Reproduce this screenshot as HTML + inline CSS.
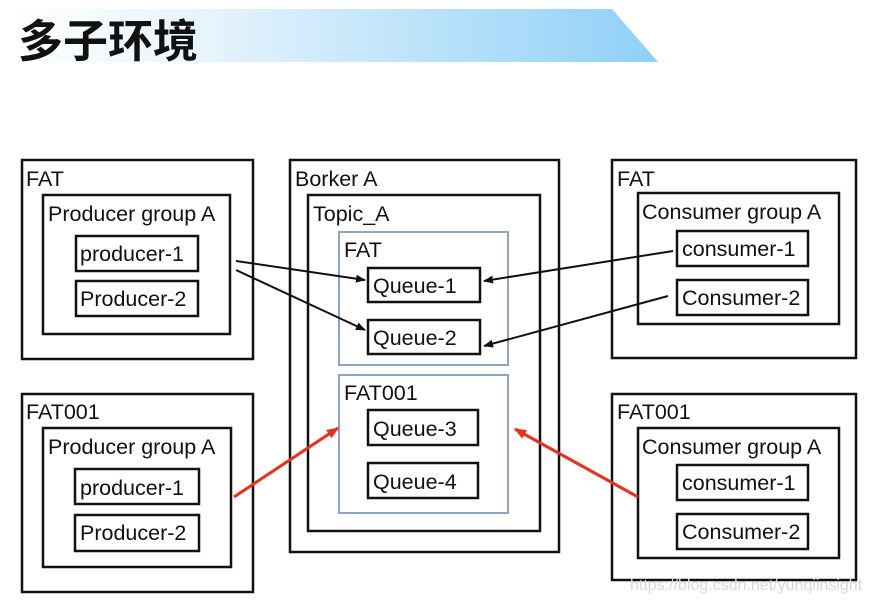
<!DOCTYPE html>
<html><head><meta charset="utf-8"><style>
html,body{margin:0;padding:0;background:#fff;}
svg{display:block;}
text{font-family:"Liberation Sans",Arial,sans-serif;fill:#111;}
</style></head><body>
<svg width="871" height="602" viewBox="0 0 871 602" xmlns="http://www.w3.org/2000/svg">
<defs>
<linearGradient id="g" x1="0" x2="1" y1="0" y2="0">
<stop offset="0" stop-color="#ffffff"/>
<stop offset="0.3" stop-color="#e6f4fd"/>
<stop offset="1" stop-color="#8fd0f7"/>
</linearGradient>
<marker id="ab" markerWidth="10" markerHeight="8" refX="9" refY="4" orient="auto" markerUnits="userSpaceOnUse"><path d="M0,0 L10,4 L0,8 z" fill="#111"/></marker>
<marker id="ar" markerWidth="12" markerHeight="10" refX="11" refY="5" orient="auto" markerUnits="userSpaceOnUse"><path d="M0,0 L12,5 L0,10 z" fill="#e8301c"/></marker>
</defs>
<polygon points="12,9 612,9 658,62 12,62" fill="url(#g)"/>
<text x="18" y="57" font-size="45" font-weight="bold" style="font-family:'Noto Sans CJK SC','WenQuanYi Zen Hei',sans-serif">多子环境</text>

<g fill="none" stroke="#111" stroke-width="2.5">
<rect x="22" y="160" width="231" height="199"/>
<rect x="43" y="195" width="187" height="139"/>
<rect x="76" y="236" width="122" height="35"/>
<rect x="76" y="281" width="122" height="35"/>
<rect x="22" y="394" width="231" height="198"/>
<rect x="43" y="428" width="188" height="139"/>
<rect x="75" y="469" width="124" height="35"/>
<rect x="75" y="515" width="124" height="36"/>
<rect x="290" y="160" width="269" height="392"/>
<rect x="308" y="195" width="232" height="336"/>
<rect x="368" y="268" width="112" height="34"/>
<rect x="368" y="320" width="112" height="34"/>
<rect x="368" y="410" width="110" height="35"/>
<rect x="368" y="463" width="110" height="35"/>
<rect x="612" y="160" width="244" height="198"/>
<rect x="638" y="193" width="201" height="131"/>
<rect x="677" y="231" width="131" height="35"/>
<rect x="677" y="280" width="131" height="35"/>
<rect x="612" y="394" width="244" height="186"/>
<rect x="638" y="428" width="201" height="130"/>
<rect x="677" y="465" width="131" height="35"/>
<rect x="677" y="514" width="131" height="35"/>
</g>
<g fill="none" stroke="#8fa3c4" stroke-width="2">
<rect x="339" y="232" width="169" height="133"/>
<rect x="339" y="375" width="169" height="138"/>
</g>

<g font-size="21.5">
<text x="26" y="186">FAT</text>
<text x="48" y="221">Producer group A</text>
<text x="80" y="261">producer-1</text>
<text x="80" y="306">Producer-2</text>
<text x="26" y="419">FAT001</text>
<text x="48" y="454">Producer group A</text>
<text x="80" y="495">producer-1</text>
<text x="80" y="540">Producer-2</text>
<text x="295" y="186">Borker A</text>
<text x="313" y="221">Topic_A</text>
<text x="344" y="257">FAT</text>
<text x="373" y="293">Queue-1</text>
<text x="373" y="345">Queue-2</text>
<text x="344" y="400">FAT001</text>
<text x="373" y="436">Queue-3</text>
<text x="373" y="489">Queue-4</text>
<text x="617" y="186">FAT</text>
<text x="642" y="219">Consumer group A</text>
<text x="682" y="256">consumer-1</text>
<text x="682" y="305">Consumer-2</text>
<text x="617" y="419">FAT001</text>
<text x="642" y="454">Consumer group A</text>
<text x="682" y="490">consumer-1</text>
<text x="682" y="539">Consumer-2</text>
</g>

<g stroke="#111" stroke-width="2" fill="none">
<line x1="236" y1="261" x2="365" y2="280" marker-end="url(#ab)"/>
<line x1="236" y1="270" x2="365" y2="330" marker-end="url(#ab)"/>
<line x1="673" y1="251" x2="484" y2="281" marker-end="url(#ab)"/>
<line x1="668" y1="296" x2="484" y2="346" marker-end="url(#ab)"/>
</g>
<g stroke="#e8301c" stroke-width="3" fill="none">
<line x1="234" y1="497" x2="338" y2="428" marker-end="url(#ar)"/>
<line x1="638" y1="497" x2="515" y2="429" marker-end="url(#ar)"/>
</g>
<text x="630" y="590" font-size="16" style="fill:#d8d8d8">https://blog.csdn.net/yunqiinsight</text>
</svg>
</body></html>
